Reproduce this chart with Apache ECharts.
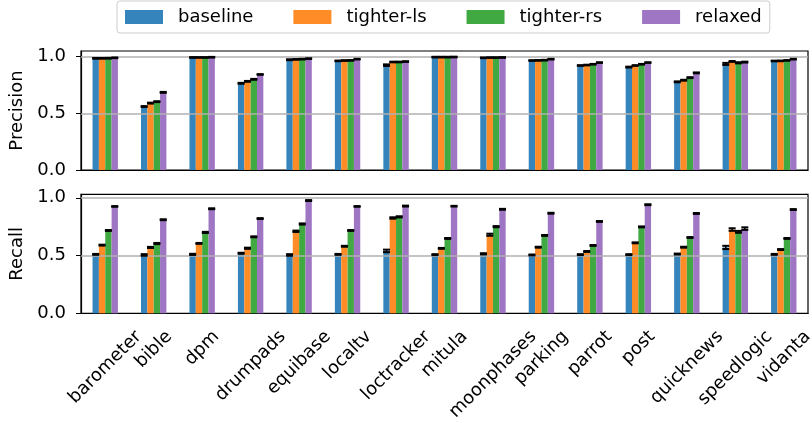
<!DOCTYPE html>
<html>
<head>
<meta charset="utf-8">
<script src="https://cdn.jsdelivr.net/npm/echarts@6/dist/echarts.min.js"></script>
<style>
  html, body { margin: 0; padding: 0; background: #fff; }
  #chart { width: 812px; height: 423px; }
</style>
</head>
<body>
<div id="chart"></div>
<script>
// Apps on the x axis
const categories = ['barometer', 'bible', 'dpm', 'drumpads', 'equibase', 'localtv', 'loctracker',
  'mitula', 'moonphases', 'parking', 'parrot', 'post', 'quicknews', 'speedlogic', 'vidanta'];

const seriesNames = ['baseline', 'tighter-ls', 'tighter-rs', 'relaxed'];

// Precision means
const precBaseline = [0.985, 0.560, 0.993, 0.765, 0.973, 0.963, 0.925, 0.996, 0.990, 0.966, 0.922, 0.908, 0.778, 0.936, 0.962];
const precTighterLs = [0.985, 0.590, 0.993, 0.782, 0.976, 0.966, 0.953, 0.996, 0.992, 0.967, 0.926, 0.922, 0.792, 0.958, 0.963];
const precTighterRs = [0.986, 0.603, 0.993, 0.800, 0.978, 0.967, 0.953, 0.996, 0.992, 0.969, 0.933, 0.933, 0.815, 0.946, 0.967];
const precRelaxed = [0.990, 0.685, 0.995, 0.843, 0.983, 0.978, 0.957, 0.997, 0.993, 0.978, 0.948, 0.948, 0.857, 0.952, 0.978];

// Precision spread (error bar half-height)
const precErrBaseline = [0.003, 0.004, 0.003, 0.004, 0.004, 0.003, 0.007, 0.003, 0.003, 0.003, 0.003, 0.004, 0.004, 0.009, 0.003];
const precErrTighterLs = [0.003, 0.004, 0.003, 0.004, 0.003, 0.003, 0.003, 0.003, 0.003, 0.003, 0.003, 0.003, 0.004, 0.004, 0.003];
const precErrTighterRs = [0.003, 0.004, 0.003, 0.004, 0.003, 0.003, 0.003, 0.003, 0.003, 0.003, 0.003, 0.003, 0.004, 0.005, 0.003];
const precErrRelaxed = [0.003, 0.004, 0.003, 0.003, 0.003, 0.003, 0.003, 0.003, 0.003, 0.003, 0.003, 0.003, 0.004, 0.004, 0.003];

// Recall means
const recBaseline = [0.510, 0.505, 0.510, 0.520, 0.505, 0.510, 0.540, 0.508, 0.515, 0.505, 0.508, 0.508, 0.513, 0.570, 0.510];
const recTighterLs = [0.590, 0.570, 0.605, 0.563, 0.710, 0.580, 0.825, 0.562, 0.680, 0.572, 0.535, 0.610, 0.572, 0.725, 0.552];
const recTighterRs = [0.717, 0.604, 0.700, 0.662, 0.773, 0.717, 0.835, 0.648, 0.750, 0.674, 0.587, 0.748, 0.656, 0.705, 0.648];
const recRelaxed = [0.925, 0.810, 0.905, 0.820, 0.976, 0.925, 0.928, 0.927, 0.900, 0.866, 0.795, 0.940, 0.864, 0.733, 0.898];

// Recall spread
const recErrBaseline = [0.004, 0.007, 0.005, 0.004, 0.007, 0.004, 0.011, 0.004, 0.005, 0.004, 0.004, 0.004, 0.004, 0.014, 0.004];
const recErrTighterLs = [0.004, 0.005, 0.004, 0.005, 0.006, 0.004, 0.006, 0.004, 0.009, 0.004, 0.004, 0.004, 0.004, 0.011, 0.004];
const recErrTighterRs = [0.004, 0.005, 0.005, 0.004, 0.005, 0.004, 0.005, 0.004, 0.005, 0.004, 0.004, 0.004, 0.004, 0.008, 0.004];
const recErrRelaxed = [0.003, 0.004, 0.004, 0.004, 0.004, 0.003, 0.004, 0.003, 0.004, 0.004, 0.004, 0.004, 0.004, 0.011, 0.004];

// Y ticks for both panels
const yTicks = [0, 0.5, 1.0];

const colors = ['#3585bc', '#ff8c26', '#41a941', '#9f76c4'];
const FONT = "'DejaVu Sans', sans-serif";
const FONT_SIZE = 18;
const BAR_FRAC = 0.131;

const precMeans = [precBaseline, precTighterLs, precTighterRs, precRelaxed];
const precErrs = [precErrBaseline, precErrTighterLs, precErrTighterRs, precErrRelaxed];
const recMeans = [recBaseline, recTighterLs, recTighterRs, recRelaxed];
const recErrs = [recErrBaseline, recErrTighterLs, recErrTighterRs, recErrRelaxed];

const chart = echarts.init(document.getElementById('chart'), null, { renderer: 'canvas' });

function makeXAxis(gridIndex) {
  return {
    type: 'category',
    gridIndex: gridIndex,
    data: categories,
    boundaryGap: true,
    axisLine: { lineStyle: { color: '#000', width: 1.2 } },
    axisTick: { alignWithLabel: true, length: 5, lineStyle: { color: '#000', width: 1 } },
    axisLabel: { show: false }
  };
}

function makeYAxis(gridIndex, name, max) {
  return {
    type: 'value',
    gridIndex: gridIndex,
    min: 0,
    max: max,
    interval: 0.5,
    name: name,
    nameLocation: 'middle',
    nameGap: 46,
    nameTextStyle: { fontFamily: FONT, fontSize: FONT_SIZE, color: '#000' },
    axisLine: { show: true, lineStyle: { color: '#000', width: 1.2 } },
    axisTick: { show: true, length: 5, customValues: yTicks, lineStyle: { color: '#000', width: 1 } },
    axisLabel: {
      customValues: yTicks,
      margin: 15,
      fontFamily: FONT, fontSize: FONT_SIZE, color: '#000',
      formatter: v => v.toFixed(1)
    },
    splitLine: { show: false }
  };
}

function errorSeries(k, means, errs, axisIndex) {
  return {
    type: 'custom',
    name: seriesNames[k],
    xAxisIndex: axisIndex,
    yAxisIndex: axisIndex,
    z: 5,
    silent: true,
    encode: { x: 0, y: 1 },
    data: means.map((v, i) => [i, v, errs[i]]),
    renderItem: function (params, api) {
      const idx = api.value(0);
      const v = api.value(1);
      const e = api.value(2);
      const band = api.size([1, 0])[0];
      const w = band * BAR_FRAC;
      const cx = api.coord([idx, v])[0] + (k - 1.5) * w;
      const yTop = api.coord([idx, v + e])[1];
      const yBot = api.coord([idx, v - e])[1];
      const cap = 3.5;
      const style = { stroke: '#000', lineWidth: 1.5 };
      const capStyle = { stroke: '#000', lineWidth: 2 };
      return {
        type: 'group',
        children: [
          { type: 'line', shape: { x1: cx, y1: yTop, x2: cx, y2: yBot }, style: style },
          { type: 'line', shape: { x1: cx - cap, y1: yTop, x2: cx + cap, y2: yTop }, style: capStyle },
          { type: 'line', shape: { x1: cx - cap, y1: yBot, x2: cx + cap, y2: yBot }, style: capStyle }
        ]
      };
    }
  };
}

const series = [];
[[precMeans, precErrs, 0], [recMeans, recErrs, 1]].forEach(([means, errs, ax]) => {
  means.forEach((vals, k) => {
    series.push({
      type: 'bar',
      name: seriesNames[k],
      xAxisIndex: ax,
      yAxisIndex: ax,
      data: vals,
      barWidth: (BAR_FRAC * 100) + '%',
      barGap: '0%',
      itemStyle: { color: colors[k] },
      z: 2,
      silent: true
    });
  });
  // gray reference lines drawn over the bars
  series.push({
    type: 'line',
    xAxisIndex: ax,
    yAxisIndex: ax,
    data: [],
    z: 3,
    silent: true,
    markLine: {
      silent: true,
      symbol: 'none',
      label: { show: false },
      lineStyle: { color: '#b0b0b0', width: 1.5, type: 'solid' },
      data: [{ yAxis: 0.5 }, { yAxis: 1.0 }]
    }
  });
  means.forEach((vals, k) => series.push(errorSeries(k, vals, errs[k], ax)));
});

const option = {
  backgroundColor: '#fff',
  animation: false,
  color: colors,
  legend: {
    data: seriesNames,
    left: 117,
    top: 1,
    orient: 'horizontal',
    itemWidth: 38,
    itemHeight: 14,
    itemGap: 40,
    padding: [7, 8, 7, 8],
    borderColor: '#cccccc',
    borderWidth: 1,
    borderRadius: 3,
    backgroundColor: '#fff',
    selectedMode: false,
    icon: 'rect',
    textStyle: { fontFamily: FONT, fontSize: FONT_SIZE, color: '#000', padding: [0, 0, 0, 10] }
  },
  grid: [
    { left: 81, right: 4, top: 51, height: 119, show: true, borderColor: '#000', borderWidth: 1.2, backgroundColor: 'transparent' },
    { left: 81, right: 4, top: 194.3, height: 119, show: true, borderColor: '#000', borderWidth: 1.2, backgroundColor: 'transparent' }
  ],
  xAxis: [makeXAxis(0), makeXAxis(1)],
  yAxis: [makeYAxis(0, 'Precision', 1.05), makeYAxis(1, 'Recall', 1.03)],
  series: series
};

chart.setOption(option);

// Rotated category labels, each centred under its tick
const measureCtx = document.createElement('canvas').getContext('2d');
measureCtx.font = FONT_SIZE + 'px ' + FONT;
const axisY = chart.convertToPixel({ yAxisIndex: 1 }, 0);
const labelGraphics = categories.map((name, i) => {
  const x = chart.convertToPixel({ xAxisIndex: 1 }, i);
  const w = measureCtx.measureText(name).width;
  return {
    type: 'text',
    x: x,
    y: axisY + 20.6 + w / (2 * Math.SQRT2),
    rotation: Math.PI / 4,
    silent: true,
    style: {
      text: name,
      fontFamily: FONT,
      fontSize: FONT_SIZE,
      fill: '#000',
      align: 'center',
      verticalAlign: 'middle'
    }
  };
});
chart.setOption({ graphic: labelGraphics });
</script>
</body>
</html>
